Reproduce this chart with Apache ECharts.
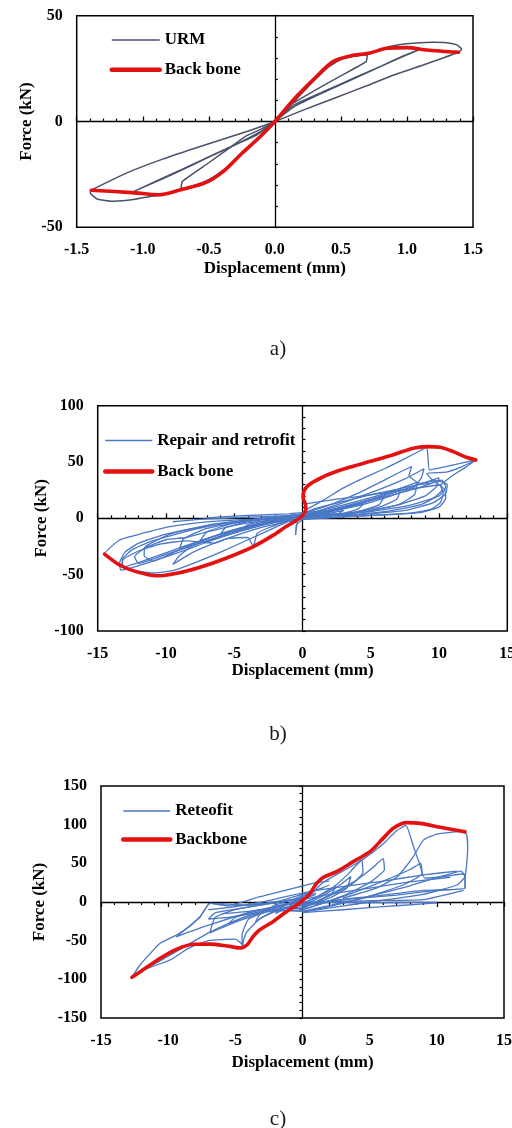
<!DOCTYPE html>
<html>
<head>
<meta charset="utf-8">
<script src="https://cdn.jsdelivr.net/npm/echarts@6/dist/echarts.min.js"></script>
<style>
html,body{margin:0;padding:0;background:#fff;}
#chart{width:512px;height:1128px;}
</style>
</head>
<body>
<div id="chart"></div>
<script>
// ---------- Panel a: unreinforced masonry (URM) ----------
const urmBackbone = [[-1.39,-32.5],[-1.08,-33.6],[-0.88,-34.6],[-0.72,-32.4],[-0.52,-28.8],[-0.39,-23.6],[-0.26,-15.7],[-0.11,-7.1],[0,0],[0.14,10.2],[0.29,19.7],[0.44,28.3],[0.57,31],[0.72,32.4],[0.85,34.6],[1.0,34.9],[1.15,33.8],[1.39,32.7]];
const urmLoops = [
  [[0,0],[0.1,6.5],[0.2,13],[0.3,19.5],[0.4,25.5],[0.5,29.3],[0.6,30.8],[0.7,31.6],[0.69,28.3],[0.5,21.6],[0.3,14.6],[0.1,7.2],[0.04,3],[0,0]],
  [[0,0],[-0.1,-6.2],[-0.2,-12.5],[-0.3,-18.5],[-0.4,-23.5],[-0.5,-27.5],[-0.6,-30],[-0.71,-31.8],[-0.70,-28.3],[-0.5,-19.5],[-0.35,-12.8],[-0.225,-7.1],[-0.1,-3.5],[0,0]],
  [[0,0],[0.136,7.6],[0.4,15],[0.6,20.6],[0.8,26],[1.0,31.5],[1.086,33.8],[0.95,30.4],[0.75,24.6],[0.5,17.5],[0.3,11.8],[0.14,6.8],[0,0]],
  [[0,0],[-0.136,-6.3],[-0.4,-13.8],[-0.7,-22.5],[-0.9,-28.2],[-1.082,-33.5],[-0.95,-29.8],[-0.75,-24.3],[-0.5,-16.8],[-0.3,-11],[-0.12,-5.2],[0,0]],
  [[0,0],[0.2,5],[0.45,11],[0.7,17],[0.9,22],[1.15,27.3],[1.39,32.7],[1.414,34.2],[1.377,36.2],[1.3,37.2],[1.2,37.4],[1.05,37],[0.95,36.4],[0.85,35.2]],
  [[0,0],[-0.2,-4.5],[-0.565,-11.8],[-0.85,-17.8],[-1.12,-24.3],[-1.39,-32.5],[-1.397,-33.8],[-1.346,-36.6],[-1.221,-37.7],[-1.07,-36.9],[-0.943,-35.4],[-0.87,-34.8]]
];

// ---------- Panel b: repaired and retrofitted wall ----------
const repairBackbone = [[-14.5,-31.7],[-13.4,-41.4],[-12.2,-47.3],[-10.7,-51],[-9.2,-48.7],[-7.5,-43.4],[-5.6,-35.4],[-3.6,-25.1],[-2.1,-14.7],[-1.2,-7.3],[-0.4,-1.5],[0.05,3],[0.25,8],[0.2,13],[0.05,18],[0.1,24],[0.4,29],[0.9,33],[1.8,38.5],[3.2,44.5],[4.9,50.4],[6.6,56.3],[8.1,62.3],[9.1,63.7],[10.1,63.1],[11.05,59.2],[12.0,54.2],[12.7,51.8]];
const repairLoops = [
  [[0,0],[1,2],[2,4.5],[3,7],[2.6,4],[1.5,1.5],[0,0.5],[-1,-1],[-2,-3],[-3,-5.5],[-2.5,-2.5],[-1.2,-0.5],[0,0]],
  [[0,0.5],[1.5,4],[3,8.5],[4.5,13],[4,8],[2.5,3],[0.5,0.8],[-1.5,-2],[-3,-5.5],[-4.5,-10],[-4,-5.5],[-2.5,-1.5],[-0.5,0.5],[0,1]],
  [[0,1],[2,6.5],[4,12.5],[6,19.5],[5.6,12],[4,6],[2,2.5],[0,1.5],[-2,-2],[-4,-7],[-6,-13.5],[-5.6,-8],[-4,-3],[-2,0],[0,2]],
  [[0,2],[2.5,9],[5,17],[7.2,26],[6.9,17],[5.5,9.5],[3,4],[0,2.5],[-2.5,-3],[-5,-10],[-7.5,-20],[-7,-12],[-5,-4],[-2.5,0.5],[0,3]],
  [[0,3],[3,12],[6,22],[8.4,32],[8.2,21],[7,12],[4,5],[0.5,3],[-3,-4],[-6,-14],[-9,-27],[-8.7,-18],[-7,-9],[-4,-2.5],[-1,2],[0,4]],
  [[0.3,13],[2.5,17],[5,20.8],[7.5,25.3],[10.1,29.6],[10.2,25.2],[9.6,17.8],[8.6,11.9],[6,6],[3,3],[0,2],[-3,-5],[-6,-16],[-9,-28],[-11,-38],[-11.6,-33],[-11.5,-25],[-9.7,-14],[-6.5,-5],[-3,-0.5],[0,3]],
  [[0,4],[2,12],[4,22],[6,34],[7.3,42],[8,46],[7.8,38],[8.6,31],[9.8,33.5],[10.6,30],[10.5,22],[9.6,14],[7.5,7],[4,3],[0,1]],
  [[0,1],[-3,-5],[-6,-14],[-8.5,-24],[-10.8,-34],[-13.1,-43],[-13.2,-37],[-12.5,-28],[-11,-20],[-8,-10],[-5,-3],[-2,1],[0,4]],
  [[0,6],[1.5,16],[3,27],[4.5,36],[6,44],[7.5,53],[8.6,60],[9.1,63],[9.2,53],[9.3,43],[10.5,46],[11.8,49.5],[12.7,51.8],[11.9,45],[11,38],[10.1,29.6]],
  [[12.7,51.8],[11.6,45.5],[10.5,41],[9.1,39.9],[9.6,33],[10.4,26],[10.5,18],[10,10],[8.5,5],[6,3],[3,1.5],[0,-0.5]],
  [[0,-1],[2,0.5],[4,2],[6,3.2],[8,4.8],[9.4,8],[10.1,14],[10.3,22],[10.1,30]],
  [[-1,-1.5],[1,9],[3,15],[5,21],[7,26],[8.5,30],[9.5,31]],
  [[0,1],[2,6],[4.5,14],[7,24],[9,32],[10,36],[9.8,28],[9,20],[7,12],[4,5],[0,1]],
  [[0,2],[3,10],[6,19],[8.5,27],[10.2,34],[10.5,28],[10,20],[8,12],[5,6],[2,3],[0,0]],
  [[0.5,4],[3,14],[5.5,25],[7.5,35],[8.9,44],[8.7,36],[8.2,28],[6.5,20],[4,11],[1.5,5],[0,2]],
  [[0,3],[-2,-8],[-4,-19],[-6,-30],[-8,-40],[-9.5,-46.5],[-11,-48.5],[-12.7,-45],[-14.5,-31.7],[-13.4,-19.2],[-11.7,-13.2],[-9.7,-7.3],[-6.8,-2.9],[-3.1,-0.5],[0,2]],
  [[-13.3,-43],[-13.1,-36],[-12,-29],[-10.5,-23],[-8.5,-20],[-6.5,-22],[-5.5,-18],[-4,-17],[-3.6,-25],[-3.3,-13],[-1.5,-4],[0,0]],
  [[0,2],[-3,-6],[-6,-17],[-9,-30],[-12,-42],[-13.3,-46],[-13.4,-40],[-13,-30],[-12,-22],[-10,-14],[-7,-7],[-4,-2],[0,1]],
  [[0,1],[-2.5,-5],[-5,-13],[-7.5,-22],[-10,-32],[-12,-40],[-12.3,-34],[-11.5,-26],[-10,-19],[-8.5,-17],[-7,-12],[-4,-4],[0,0]],
  [[0,0],[-3,-8],[-6,-20],[-8,-30],[-9.5,-41],[-9,-33],[-8,-24],[-6.5,-18],[-5,-11],[-3,-5],[0,-1]],
  [[-7,0.5],[-5,2],[-3,3],[-1,4],[0,5],[2,7]],
  [[-9.5,-3],[-7,-0.5],[-4,1],[-1,2.5],[0,3.5]],
  [[-1.5,-2],[-0.4,-3],[-0.5,-14.8],[-0.45,-6],[0,-1]]
];

// ---------- Panel c: retrofitted wall ----------
const retrofitBackbone = [[-12.7,-97.4],[-11.6,-84.5],[-10.6,-72.8],[-9.4,-61.2],[-8.1,-54.7],[-6.9,-54.5],[-5.6,-56.9],[-4.6,-59.5],[-4.1,-55],[-3.7,-45],[-3.2,-36.2],[-2.2,-25.4],[-1.2,-12.5],[-0.2,-1],[0.56,11.2],[1.05,24.1],[1.55,31.9],[2.54,39.2],[3.78,52.2],[5.02,65.1],[6.0,82.3],[6.76,95.3],[7.75,102.6],[8.75,101.7],[10.24,96.6],[12.1,90.9]];
const retrofitLoops = [
  [[0,-3],[1,6],[2.5,20],[2.1,9],[1,0],[0,-4],[-1,-6],[-2,-15],[-1.6,-6],[-0.5,2],[0,5]],
  [[0,-5],[1.5,8],[2.8,22],[3.6,33],[3.3,18],[2,5],[0,-6],[-1.5,-9],[-3,-20],[-3.5,-26],[-3.1,-14],[-2,-4],[-0.5,4],[0.5,10]],
  [[-1,-8],[1,6],[2.5,22],[3.5,38],[4.4,54],[4.5,38],[3.5,21],[1.5,4],[0,-8],[-2,-9],[-4,-22],[-4.5,-43],[-4.5,-58],[-4.2,-40],[-3.2,-22],[-1.5,-6],[0,4],[1,12]],
  [[0,-8],[2,9],[4,28],[5.2,44],[6,56],[6.1,42],[5,25],[3,8],[0,-10],[-2.5,-12],[-5,-26],[-6.9,-40],[-6.5,-20],[-5,-10],[-2,0],[1.5,18]],
  [[0,-10],[3,7],[6,27],[8,42],[8.8,50],[8.9,37],[7.5,22],[4.5,5],[0,-12],[-3,-10],[-7,-30],[-9.4,-45],[-8.6,-34],[-7.6,-19],[-6.9,-1.7],[-4,-4],[-1,2],[2,22]],
  [[0,-12],[4,3],[8,21],[10.5,34],[11.8,40],[12.1,33],[11.5,22],[9,10],[5,0],[0,-13]],
  [[-1,-5],[0.5,8],[1.5,25],[3,40],[4.5,55],[6,75],[7,92],[7.7,99],[8.2,75],[8.7,50],[9.1,31],[10.5,33],[12,36.5],[12.1,28],[12.1,17.7],[10,15],[7,9],[3,3],[0,-2]],
  [[3,5],[5.5,18],[7,32],[7.5,41.4],[8.25,58.6],[9,80],[10,87.9],[11.7,90.9],[12.2,88],[12.3,70],[12.2,45],[12.1,30],[12.1,17.7],[9,15],[6,9],[2,1],[0,-6]],
  [[0.5,-0.5],[3,-0.5],[6,-0.8],[8,-0.5],[10,-0.5]],
  [[0,-13.8],[3,-10],[6,-6],[8.5,-3],[10,-1]],
  [[0.5,-1],[3,1],[6,2],[9,3],[12,15]],
  [[0,3],[-2,-6],[-5,-24],[-7,-40],[-8.5,-55],[-10,-70],[-11.8,-88],[-12.7,-97.4],[-12.1,-81.5],[-10.6,-53.4],[-9.37,-42.7],[-8.62,-34.1],[-7.63,-19],[-6.9,-1.7],[-5.5,-5],[-3,-2],[0,5]],
  [[-12.7,-97],[-11.85,-87.9],[-9.86,-75],[-8.5,-60],[-7,-50],[-5,-48],[-4.4,-56]],
  [[0,-2],[-2,-10],[-4,-18],[-5.5,-28],[-5,-20],[-3.5,-12],[-1.5,-4],[0,0]],
  [[1,10],[-1,-2],[-3,-12],[-5.5,-20],[-7,-22],[-6.5,-14],[-4.5,-8],[-2,-1],[0.5,6]],
  [[-5,-3],[-3.16,6.9],[-1.67,13.4],[-0.19,19.8],[1.05,25],[2,27]],
  [[-7,-10],[-5,-6],[-3,0],[-1,8],[1,15],[3,20],[6,27],[9,35],[11.5,40]],
  [[-6,-15],[-4,-12],[-2,-6],[0,3],[2,10],[5,18],[8,26],[11,32]]
];

// ---------- axis ranges and labels ----------
const xTicksA = [-1.5, 1.5, 0.5];   // min, max, label step
const yTicksA = [-50, 50, 50];
const xTicksBC = [-15, 15, 5];
const yTicksB = [-100, 100, 50];
const yTicksC = [-150, 150, 50];
const xTitle = 'Displacement (mm)';
const yTitle = 'Force (kN)';
const captions = ['a)', 'b)', 'c)'];

const FONT = '"Liberation Serif", "Times New Roman", serif';
const BLACK = '#000';
const RED = '#e3110f';

const panels = [
  {
    grid: {left: 76.7, top: 15.7, width: 396.3, height: 211.6},
    x: xTicksA, xMinor: 5, xFmt: v => v.toFixed(1),
    y: yTicksA, yTick: 10,
    xTickUp: true, yTickRight: true,
    xNameGap: 33, yNameGap: 41.5,
    loops: urmLoops, loopName: 'URM', loopColor: '#47536a', loopWidth: 1.5,
    backbone: urmBackbone, backboneName: 'Back bone', smooth: 0.3,
    legend: {left: 109.5, top: 31.5, itemWidth: 48, itemGap: 12.7},
    caption: {x: 278, y: 349.5}
  },
  {
    grid: {left: 97.7, top: 405.7, width: 409.6, height: 225.3},
    x: xTicksBC, xMinor: 5, xFmt: v => String(v),
    y: yTicksB, yTick: 10,
    xTickUp: true, yTickRight: true,
    xNameGap: 31, yNameGap: 47.5,
    loops: repairLoops, loopName: 'Repair and retrofit', loopColor: '#4a78c6', loopWidth: 1.3,
    backbone: repairBackbone, backboneName: 'Back bone ', smooth: 0.25,
    legend: {left: 103, top: 432, itemWidth: 47, itemGap: 14},
    caption: {x: 278, y: 734.5}
  },
  {
    grid: {left: 101, top: 786, width: 403, height: 232},
    x: xTicksBC, xMinor: 5, xFmt: v => String(v),
    y: yTicksC, yTick: 10,
    xTickUp: false, yTickRight: false,
    xNameGap: 36, yNameGap: 53,
    loops: retrofitLoops, loopName: 'Reteofit', loopColor: '#4a78c6', loopWidth: 1.3,
    backbone: retrofitBackbone, backboneName: 'Backbone', smooth: 0.3,
    legend: {left: 121, top: 802.5, itemWidth: 47, itemGap: 11.6},
    caption: {x: 278, y: 1119.5}
  }
];

const option = {
  animation: false,
  backgroundColor: '#fff',
  grid: [], xAxis: [], yAxis: [], series: [], legend: [], graphic: []
};

panels.forEach((p, gi) => {
  option.grid.push(Object.assign({
    show: true, borderColor: BLACK, borderWidth: 1.5, backgroundColor: 'transparent',
    containLabel: false, outerBoundsMode: 'none'
  }, p.grid));

  const labelStyle = {fontFamily: FONT, fontWeight: 'bold', fontSize: 16, color: BLACK};
  const nameStyle = {fontFamily: FONT, fontWeight: 'bold', fontSize: 17, color: BLACK};

  // labelled x axis along the bottom edge of the frame
  const xLabelIdx = option.xAxis.length;
  option.xAxis.push({
    gridIndex: gi, type: 'value', min: p.x[0], max: p.x[1], interval: p.x[2],
    position: 'bottom',
    axisLine: {show: false, onZero: false}, axisTick: {show: false}, splitLine: {show: false},
    axisLabel: Object.assign({margin: 15, formatter: p.xFmt, showMinLabel: true, showMaxLabel: true, hideOverlap: false}, labelStyle),
    name: xTitle, nameLocation: 'middle', nameGap: p.xNameGap, nameMoveOverlap: false, nameTextStyle: nameStyle
  });
  // x axis crossing at zero force, with minor ticks
  option.xAxis.push({
    gridIndex: gi, type: 'value', min: p.x[0], max: p.x[1], interval: p.x[2],
    position: p.xTickUp ? 'top' : 'bottom',
    axisLine: {show: true, onZero: true, lineStyle: {color: BLACK, width: 1.3}},
    axisTick: {show: true, inside: false, length: 5, lineStyle: {color: BLACK, width: 1.3}},
    minorTick: {show: true, splitNumber: p.xMinor, length: 3, lineStyle: {color: BLACK, width: 1.2}},
    axisLabel: {show: false}, splitLine: {show: false}
  });

  // labelled y axis along the left edge of the frame
  const yLabelIdx = option.yAxis.length;
  option.yAxis.push({
    gridIndex: gi, type: 'value', min: p.y[0], max: p.y[1], interval: p.y[2],
    position: 'left',
    axisLine: {show: false, onZero: false}, axisTick: {show: false}, splitLine: {show: false},
    axisLabel: Object.assign({margin: 14, hideOverlap: false}, labelStyle),
    name: yTitle, nameLocation: 'middle', nameGap: p.yNameGap, nameRotate: 90, nameMoveOverlap: false, nameTextStyle: nameStyle
  });
  // y axis crossing at zero displacement
  option.yAxis.push({
    gridIndex: gi, type: 'value', min: p.y[0], max: p.y[1], interval: p.yTick,
    position: p.yTickRight ? 'right' : 'left',
    axisLine: {show: true, onZero: true, lineStyle: {color: BLACK, width: 1.3}},
    axisTick: {show: true, inside: false, length: 3, lineStyle: {color: BLACK, width: 1.2}},
    axisLabel: {show: false}, splitLine: {show: false}
  });

  p.loops.forEach(loop => {
    option.series.push({
      type: 'line', name: p.loopName, xAxisIndex: xLabelIdx, yAxisIndex: yLabelIdx,
      data: loop, symbol: 'none', smooth: 0.15, silent: true, z: 2,
      lineStyle: {color: p.loopColor, width: p.loopWidth}, itemStyle: {color: p.loopColor}
    });
  });
  option.series.push({
    type: 'line', name: p.backboneName, xAxisIndex: xLabelIdx, yAxisIndex: yLabelIdx,
    data: p.backbone, symbol: 'none', smooth: p.smooth, silent: true, z: 4,
    lineStyle: {color: RED, width: 3.6, cap: 'round', join: 'round'}, itemStyle: {color: RED}
  });

  option.legend.push({
    orient: 'vertical', left: p.legend.left, top: p.legend.top, padding: 0,
    itemWidth: p.legend.itemWidth, itemHeight: 14, itemGap: p.legend.itemGap,
    selectedMode: false,
    itemStyle: {opacity: 0, borderWidth: 0},
    data: [
      {name: p.loopName, itemStyle: {opacity: 0, borderWidth: 0}, lineStyle: {color: p.loopColor, width: p.loopWidth + 0.2}},
      {name: p.backboneName, itemStyle: {opacity: 0, borderWidth: 0}, lineStyle: {color: RED, width: 4.5}}
    ],
    textStyle: {fontFamily: FONT, fontWeight: 'bold', fontSize: 17, color: BLACK}
  });

  option.graphic.push({
    type: 'text', x: p.caption.x, y: p.caption.y, silent: true,
    style: {text: captions[gi], font: '21px "Liberation Serif", serif', fill: '#1a1a1a', align: 'center', verticalAlign: 'middle'}
  });
});

const chart = echarts.init(document.getElementById('chart'), null, {renderer: 'canvas'});
chart.setOption(option);
</script>
</body>
</html>
